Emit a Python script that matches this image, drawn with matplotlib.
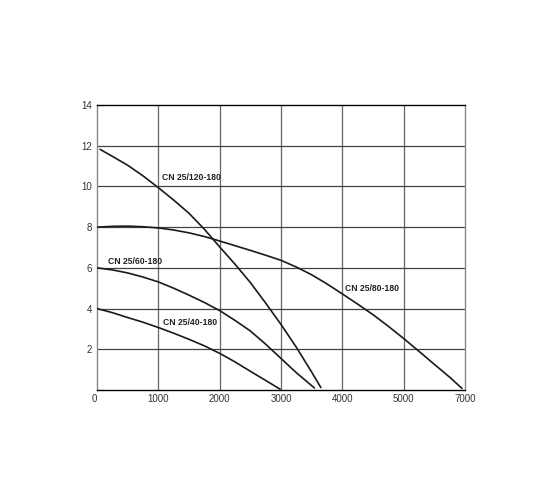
import matplotlib
matplotlib.use("Agg")
import matplotlib.pyplot as plt

# --- data ---
q120 = [50, 250, 500, 750, 1000, 1250, 1500, 1750, 2000, 2250, 2500, 2750, 3000, 3250, 3500, 3650]
h120 = [11.82, 11.48, 11.04, 10.52, 9.94, 9.33, 8.68, 7.9, 7.03, 6.18, 5.28, 4.27, 3.22, 2.1, 0.88, 0.12]

q80 = [0, 250, 500, 750, 1000, 1250, 1500, 1750, 2000, 2250, 2500, 2750, 3000, 3250,
       3500, 3750, 4000, 4250, 4500, 4750, 5000, 5250, 5500, 5750, 5950]
h80 = [8.0, 8.04, 8.05, 8.02, 7.96, 7.86, 7.72, 7.54, 7.32, 7.09, 6.86, 6.62, 6.37, 6.04,
       5.66, 5.21, 4.72, 4.22, 3.7, 3.13, 2.53, 1.9, 1.26, 0.63, 0.08]

q60 = [0, 250, 500, 750, 1000, 1250, 1500, 1750, 2000, 2250, 2500, 2750, 3000, 3250, 3545]
h60 = [6.0, 5.9, 5.75, 5.55, 5.31, 5.0, 4.66, 4.3, 3.9, 3.42, 2.9, 2.25, 1.55, 0.85, 0.1]

q40 = [0, 250, 500, 750, 1000, 1250, 1500, 1750, 2000, 2250, 2500, 2750, 2985]
h40 = [4.0, 3.8, 3.56, 3.33, 3.07, 2.79, 2.49, 2.17, 1.8, 1.38, 0.92, 0.47, 0.04]

curve_labels = ["CN 25/120-180", "CN 25/80-180", "CN 25/60-180", "CN 25/40-180"]
label_pos = [(1065, 10.43), (4046, 4.98), (185, 6.29), (1082, 3.32)]

x_tick_pos = [0, 1000, 2000, 3000, 4000, 5000, 6000]
x_tick_labels = ["0", "1000", "2000", "3000", "4000", "5000", "7000"]
y_ticks = [2, 4, 6, 8, 10, 12, 14]

plt.rcParams['font.family'] = ['Liberation Sans', 'DejaVu Sans']

fig = plt.figure(figsize=(5.6, 5.04), dpi=100)
ax = fig.add_axes([97/560, 1 - 390/504, (465 - 97)/560, (390 - 105)/504])

ax.set_xlim(0, 6000)
ax.set_ylim(0, 14)

# grid
for xv in x_tick_pos[1:-1]:
    ax.axvline(xv, color='#666666', lw=0.9, zorder=1)
for yv in y_ticks[:-1]:
    ax.axhline(yv, color='#444444', lw=0.9, zorder=1)

for q, h in [(q120, h120), (q80, h80), (q60, h60), (q40, h40)]:
    ax.plot(q, h, color='#1a1a1a', lw=1.2, zorder=3, solid_capstyle='round',
            solid_joinstyle='round')

for lab, (lx, ly) in zip(curve_labels, label_pos):
    ax.text(lx, ly, lab, fontsize=6.2, fontweight='bold', color='#222222',
            ha='left', va='center', zorder=4)

ax.spines['top'].set_color('black')
ax.spines['bottom'].set_color('black')
ax.spines['left'].set_color('#888888')
ax.spines['right'].set_color('#888888')
for s in ax.spines.values():
    s.set_linewidth(1.0)

ax.set_xticks(x_tick_pos)
ax.set_xticklabels(x_tick_labels)
ax.set_yticks(y_ticks)
ax.tick_params(axis='both', length=0, labelsize=7, labelcolor='#333333')
ax.tick_params(axis='y', pad=3.5)
ax.tick_params(axis='x', pad=3)
ax.xaxis.get_majorticklabels()[0].set_horizontalalignment('right')

fig.savefig("out.png", dpi=100)
